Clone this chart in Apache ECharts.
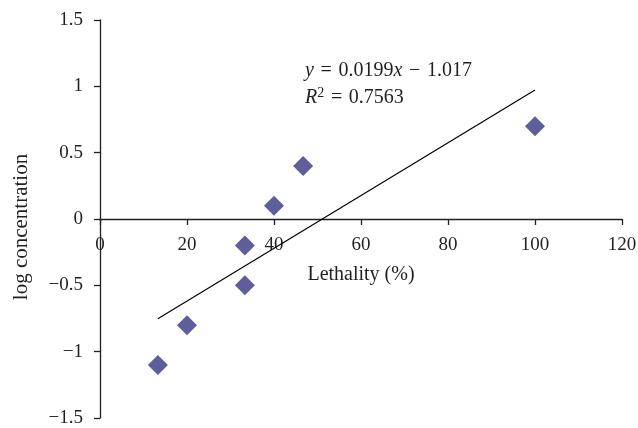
<!DOCTYPE html>
<html>
<head>
<meta charset="utf-8">
<script src="https://cdn.jsdelivr.net/npm/echarts@6/dist/echarts.min.js"></script>
<style>
html,body{margin:0;padding:0;background:#fff;}
#chart{width:638px;height:428px;}
</style>
</head>
<body>
<div id="chart"></div>
<script>
// Data
const lethality = [13.3, 20, 33.3, 33.3, 40, 46.7, 100];
const logConcentration = [-1.1, -0.8, -0.2, -0.5, 0.1, 0.4, 0.7];
// Linear trendline endpoints
const trendX = [13.3, 100];
const trendY = [-0.752, 0.973];
const xTicks = [0, 20, 40, 60, 80, 100, 120];
const yTicks = [-1.5, -1, -0.5, 0, 0.5, 1, 1.5];
const SP = ' \u200a';
const eqLine1 = ['y', SP + '=' + SP + '0.0199', 'x', SP + '−' + SP + '1.017'];
const eqLine2 = ['R', '2', SP + '=' + SP + '0.7563'];

const FONT = '"Liberation Serif", "DejaVu Serif", serif';
const INK = '#231f20';
const chart = echarts.init(document.getElementById('chart'), null, {renderer: 'canvas'});

const scatterData = lethality.map((x, i) => [x, logConcentration[i]]);
const trendData = trendX.map((x, i) => [x, trendY[i]]);

const gridTop = 20, gridBottom = 10;
const plotH = 428 - gridTop - gridBottom;
const yMin = yTicks[0], yMax = yTicks[yTicks.length - 1];
// move the x axis (with its labels) up to the y = 0 line
const xAxisOffset = -((0 - yMin) / (yMax - yMin)) * plotH;

const option = {
  backgroundColor: '#ffffff',
  animation: false,
  textStyle: {fontFamily: FONT},
  grid: {left: 100, right: 16, top: gridTop, bottom: gridBottom, containLabel: false, outerBoundsMode: 'none'},
  xAxis: {
    type: 'value',
    min: xTicks[0], max: xTicks[xTicks.length - 1], interval: 20,
    offset: xAxisOffset,
    name: 'Lethality (%)',
    nameLocation: 'middle',
    nameGap: 46,
    nameTextStyle: {fontFamily: FONT, fontSize: 20, color: INK},
    axisLine: {show: true, onZero: false, lineStyle: {color: INK, width: 1.3}},
    axisTick: {show: true, inside: false, length: 6, lineStyle: {color: INK, width: 1.3}},
    axisLabel: {fontFamily: FONT, fontSize: 19, color: INK, margin: 17, showMinLabel: true, showMaxLabel: true, hideOverlap: false},
    splitLine: {show: false}
  },
  yAxis: {
    type: 'value',
    min: yMin, max: yMax, interval: 0.5,
    name: 'log concentration',
    nameLocation: 'middle',
    nameGap: 68,
    nameRotate: 90,
    nameTextStyle: {fontFamily: FONT, fontSize: 21, color: INK, padding: [0, 16, 0, 0]},
    axisLine: {show: true, onZero: false, lineStyle: {color: INK, width: 1.3}},
    axisTick: {show: true, inside: false, length: 6, lineStyle: {color: INK, width: 1.3}},
    axisLabel: {
      fontFamily: FONT, fontSize: 19, color: INK, margin: 17,
      formatter: v => String(v).replace('-', '−')
    },
    splitLine: {show: false}
  },
  series: [
    {
      type: 'line',
      data: trendData,
      symbol: 'none',
      lineStyle: {color: '#000000', width: 1.2},
      z: 2,
      silent: true
    },
    {
      type: 'scatter',
      data: scatterData,
      symbol: 'diamond',
      symbolSize: [20, 20],
      itemStyle: {color: '#5e5e9a', opacity: 1},
      z: 3
    }
  ],
  graphic: [
    {
      type: 'text',
      left: 305,
      top: 61,
      style: {
        text: '{i|' + eqLine1[0] + '}{n|' + eqLine1[1] + '}{i|' + eqLine1[2] + '}{n|' + eqLine1[3] + '}',
        rich: {
          i: {fontFamily: FONT, fontSize: 20, fontStyle: 'italic', fill: INK},
          n: {fontFamily: FONT, fontSize: 20, fill: INK}
        }
      }
    },
    {
      type: 'text',
      left: 305,
      top: 86,
      style: {
        text: '{i|' + eqLine2[0] + '}{s|' + eqLine2[1] + '}{n|' + eqLine2[2] + '}',
        rich: {
          i: {fontFamily: FONT, fontSize: 20, fontStyle: 'italic', fill: INK, lineHeight: 22, verticalAlign: 'bottom'},
          s: {fontFamily: FONT, fontSize: 14, fill: INK, lineHeight: 22, verticalAlign: 'top'},
          n: {fontFamily: FONT, fontSize: 20, fill: INK, lineHeight: 22, verticalAlign: 'bottom'}
        }
      }
    }
  ]
};
chart.setOption(option);
</script>
</body>
</html>
